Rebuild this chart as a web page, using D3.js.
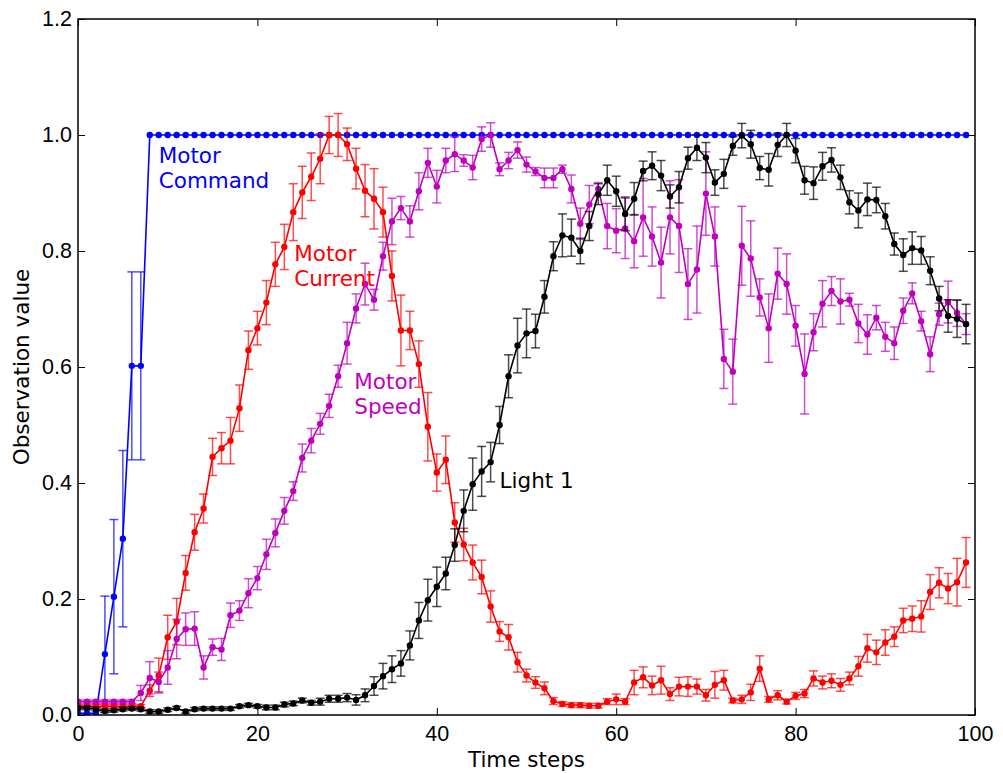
<!DOCTYPE html>
<html>
<head>
<meta charset="utf-8">
<script src="https://cdn.jsdelivr.net/npm/d3@7"></script>
<style>
  body { margin: 0; background: #fff; }
  svg { font-family: "DejaVu Sans", sans-serif; }
  .axis text { font-size: 21.5px; fill: #000; }
  .axis path, .axis line { stroke: #000; }
</style>
</head>
<body>
<svg width="1003" height="773"></svg>
<script>
"use strict";

// time steps 0..99
var steps = d3.range(0, 100);

var xTicks = [0, 20, 40, 60, 80, 100];
var yTicks = [0, 0.2, 0.4, 0.6, 0.8, 1.0, 1.2];

var motorCommand = [0.003, 0.003, 0.003, 0.105, 0.204, 0.304, 0.602, 0.602]
  .concat(d3.range(92).map(function() { return 1.0; }));
var motorCommandErr = [0, 0, 0, 0.10, 0.133, 0.152, 0.162, 0.162]
  .concat(d3.range(92).map(function() { return 0; }));

var motorCurrent = [0.015, 0.015, 0.015, 0.015, 0.015, 0.015, 0.015, 0.015,
  0.042, 0.068, 0.134, 0.161, 0.245, 0.315, 0.356, 0.445, 0.460, 0.473, 0.529, 0.629,
  0.667, 0.711, 0.777, 0.807, 0.867, 0.901, 0.928, 0.959, 1.0, 1.0,
  0.984, 0.942, 0.904, 0.890, 0.867, 0.757, 0.663, 0.663, 0.605, 0.497,
  0.418, 0.440, 0.332, 0.294, 0.263, 0.238, 0.187, 0.144, 0.134, 0.091,
  0.068, 0.056, 0.046, 0.024, 0.019, 0.017, 0.017, 0.016, 0.016, 0.023,
  0.027, 0.023, 0.056, 0.065, 0.051, 0.060, 0.036, 0.049, 0.049, 0.049,
  0.034, 0.052, 0.060, 0.025, 0.027, 0.039, 0.080, 0.027, 0.034, 0.023,
  0.033, 0.037, 0.063, 0.056, 0.059, 0.052, 0.063, 0.084, 0.115, 0.108,
  0.125, 0.135, 0.163, 0.166, 0.170, 0.212, 0.228, 0.218, 0.229, 0.263];
var motorCurrentErr = [0.003, 0.003, 0.003, 0.003, 0.003, 0.003, 0.003, 0.003,
  0.010, 0.030, 0.038, 0.040, 0.030, 0.031, 0.025, 0.032, 0.027, 0.040, 0.040, 0.033,
  0.029, 0.038, 0.038, 0.039, 0.049, 0.045, 0.041, 0.043, 0.032, 0.037,
  0.028, 0.035, 0.045, 0.052, 0.043, 0.043, 0.061, 0.033, 0.040, 0.059,
  0.032, 0.041, 0.034, 0.028, 0.030, 0.029, 0.027, 0.017, 0.022, 0.017,
  0.011, 0.010, 0.011, 0.006, 0.004, 0.004, 0.004, 0.004, 0.004, 0.005,
  0.009, 0.005, 0.021, 0.018, 0.016, 0.024, 0.011, 0.016, 0.017, 0.013,
  0.010, 0.023, 0.017, 0.004, 0.007, 0.014, 0.022, 0.005, 0.008, 0.004,
  0.006, 0.007, 0.013, 0.011, 0.012, 0.011, 0.011, 0.017, 0.024, 0.021,
  0.022, 0.017, 0.021, 0.022, 0.027, 0.030, 0.026, 0.026, 0.041, 0.043];

var motorSpeed = [0.023, 0.023, 0.023, 0.023, 0.023, 0.023, 0.023,
  0.038, 0.064, 0.057, 0.082, 0.131, 0.148, 0.149, 0.082, 0.117, 0.113, 0.172, 0.180, 0.210,
  0.236, 0.277, 0.314, 0.352, 0.386, 0.443, 0.473, 0.502, 0.533, 0.584,
  0.641, 0.701, 0.743, 0.716, 0.791, 0.851, 0.874, 0.851, 0.903, 0.952,
  0.911, 0.956, 0.967, 0.956, 0.944, 0.993, 1.0, 0.941, 0.956, 0.974,
  0.949, 0.937, 0.926, 0.926, 0.941, 0.907, 0.847, 0.880, 0.907, 0.843,
  0.835, 0.839, 0.817, 0.858, 0.825, 0.780, 0.858, 0.843, 0.743, 0.768,
  0.899, 0.825, 0.614, 0.592, 0.809, 0.787, 0.720, 0.667, 0.761, 0.743,
  0.671, 0.588, 0.660, 0.709, 0.731, 0.713, 0.716, 0.675, 0.656, 0.685,
  0.652, 0.641, 0.697, 0.727, 0.679, 0.622, 0.691, 0.712, 0.693, 0.674];
var motorSpeedErr = [0.003, 0.003, 0.003, 0.003, 0.003, 0.003, 0.003,
  0.013, 0.028, 0.017, 0.029, 0.034, 0.028, 0.029, 0.020, 0.014, 0.019, 0.021, 0.017, 0.025,
  0.020, 0.026, 0.024, 0.023, 0.016, 0.024, 0.021, 0.018, 0.020, 0.019,
  0.036, 0.025, 0.036, 0.018, 0.024, 0.040, 0.020, 0.027, 0.032, 0.025,
  0.028, 0.021, 0.030, 0.010, 0.021, 0.021, 0.021, 0.011, 0.014, 0.014,
  0.013, 0.007, 0.017, 0.017, 0.007, 0.024, 0.027, 0.033, 0.011, 0.039,
  0.038, 0.052, 0.046, 0.067, 0.051, 0.061, 0.063, 0.080, 0.061, 0.075,
  0.072, 0.051, 0.051, 0.056, 0.068, 0.065, 0.032, 0.059, 0.044, 0.052,
  0.035, 0.069, 0.032, 0.040, 0.025, 0.039, 0.011, 0.033, 0.034, 0.021,
  0.025, 0.028, 0.022, 0.018, 0.017, 0.030, 0.019, 0.036, 0.023, 0.018];

var light1 = [0.012, 0.012, 0.010, 0.007, 0.008, 0.010, 0.011, 0.010, 0.006, 0.006,
  0.009, 0.012, 0.006, 0.010, 0.011, 0.011, 0.011, 0.011, 0.015, 0.017,
  0.015, 0.013, 0.013, 0.018, 0.020, 0.025, 0.021, 0.023, 0.028, 0.028,
  0.030, 0.026, 0.034, 0.050, 0.067, 0.079, 0.089, 0.120, 0.163, 0.198,
  0.221, 0.244, 0.293, 0.352, 0.398, 0.420, 0.436, 0.500, 0.584, 0.637,
  0.658, 0.662, 0.721, 0.791, 0.827, 0.823, 0.800, 0.843, 0.898, 0.922,
  0.903, 0.864, 0.890, 0.938, 0.947, 0.930, 0.894, 0.910, 0.960, 0.978,
  0.961, 0.918, 0.933, 0.981, 0.999, 0.984, 0.943, 0.940, 0.983, 1.0,
  0.973, 0.922, 0.917, 0.946, 0.957, 0.927, 0.884, 0.870, 0.889, 0.888,
  0.860, 0.812, 0.793, 0.805, 0.801, 0.766, 0.718, 0.688, 0.683, 0.674];
var light1Err = [0.003, 0.003, 0.003, 0.003, 0.003, 0.003, 0.003, 0.003, 0.003, 0.003,
  0.003, 0.003, 0.003, 0.003, 0.003, 0.003, 0.003, 0.003, 0.003, 0.003,
  0.003, 0.004, 0.004, 0.004, 0.004, 0.004, 0.004, 0.006, 0.006, 0.006,
  0.007, 0.009, 0.011, 0.016, 0.022, 0.023, 0.022, 0.025, 0.031, 0.036,
  0.034, 0.028, 0.028, 0.036, 0.045, 0.043, 0.034, 0.032, 0.037, 0.047,
  0.042, 0.029, 0.028, 0.025, 0.037, 0.032, 0.022, 0.025, 0.018, 0.026,
  0.026, 0.029, 0.028, 0.017, 0.024, 0.026, 0.020, 0.027, 0.019, 0.022,
  0.026, 0.022, 0.025, 0.016, 0.021, 0.024, 0.020, 0.028, 0.020, 0.020,
  0.021, 0.024, 0.028, 0.024, 0.021, 0.021, 0.020, 0.030, 0.028, 0.022,
  0.022, 0.019, 0.028, 0.028, 0.024, 0.024, 0.021, 0.028, 0.032, 0.034];

var series = [
  { name: ["Motor", "Command"], color: "#0000ff", values: motorCommand, err: motorCommandErr, at: [9.0, 0.952] },
  { name: ["Motor", "Current"], color: "#ff0000", values: motorCurrent, err: motorCurrentErr, at: [24.1, 0.783] },
  { name: ["Motor", "Speed"], color: "#bf00bf", values: motorSpeed, err: motorSpeedErr, at: [30.8, 0.562] },
  { name: ["Light 1"], color: "#000000", values: light1, err: light1Err, at: [47.0, 0.391] }
];

var svg = d3.select("svg");
var margin = { left: 78, top: 19, right: 28, bottom: 58 };
var width = 1003 - margin.left - margin.right,
    height = 773 - margin.top - margin.bottom;

var x = d3.scaleLinear().domain([0, 100]).range([margin.left, margin.left + width]);
var y = d3.scaleLinear().domain([0, 1.2]).range([margin.top + height, margin.top]);

var plot = svg.append("g");
svg.append("defs").append("clipPath").attr("id", "clip")
  .append("rect").attr("x", margin.left).attr("y", margin.top)
  .attr("width", width).attr("height", height);
plot.attr("clip-path", "url(#clip)");

var line = d3.line()
  .x(function(d) { return x(d[0]); })
  .y(function(d) { return y(d[1]); });

series.forEach(function(s) {
  var pts = steps.map(function(t, i) { return [t, s.values[i], s.err[i]]; });
  var g = plot.append("g");

  var eb = g.append("g").attr("stroke", s.color).attr("stroke-width", 1.5)
    .attr("stroke-opacity", 0.7)
    .selectAll("g").data(pts.filter(function(d) { return d[2] > 0; }))
    .enter().append("g");
  eb.append("line")
    .attr("x1", function(d) { return x(d[0]); }).attr("x2", function(d) { return x(d[0]); })
    .attr("y1", function(d) { return y(d[1] - d[2]); })
    .attr("y2", function(d) { return y(d[1] + d[2]); });
  [-1, 1].forEach(function(sign) {
    eb.append("line")
      .attr("x1", function(d) { return x(d[0]) - 4.5; })
      .attr("x2", function(d) { return x(d[0]) + 4.5; })
      .attr("y1", function(d) { return y(d[1] + sign * d[2]); })
      .attr("y2", function(d) { return y(d[1] + sign * d[2]); });
  });

  g.append("path").datum(pts)
    .attr("fill", "none").attr("stroke", s.color).attr("stroke-width", 1.6)
    .attr("d", line);

  g.selectAll("circle").data(pts).enter().append("circle")
    .attr("cx", function(d) { return x(d[0]); })
    .attr("cy", function(d) { return y(d[1]); })
    .attr("r", 3.2)
    .attr("fill", s.color);

  var label = svg.append("text")
    .attr("x", x(s.at[0])).attr("y", y(s.at[1]))
    .attr("fill", s.color).style("font-size", "21.5px");
  s.name.forEach(function(n, k) {
    label.append("tspan").attr("x", x(s.at[0])).attr("dy", k === 0 ? 0 : 25).text(n);
  });
});

// axes, ticks pointing inward on all four sides
function styleAxis(g) {
  g.select(".domain").remove();
  g.selectAll("line").attr("stroke-width", 1);
}

svg.append("g").attr("class", "axis")
  .attr("transform", "translate(0," + (margin.top + height) + ")")
  .call(d3.axisBottom(x).tickValues(xTicks).tickFormat(d3.format("d"))
    .tickSizeInner(-7).tickSizeOuter(0).tickPadding(11))
  .call(styleAxis);
svg.append("g").attr("class", "axis")
  .attr("transform", "translate(0," + margin.top + ")")
  .call(d3.axisTop(x).tickValues(xTicks).tickFormat("")
    .tickSizeInner(-7).tickSizeOuter(0))
  .call(styleAxis);
svg.append("g").attr("class", "axis")
  .attr("transform", "translate(" + margin.left + ",0)")
  .call(d3.axisLeft(y).tickValues(yTicks).tickFormat(d3.format(".1f"))
    .tickSizeInner(-7).tickSizeOuter(0).tickPadding(6))
  .call(styleAxis);
svg.append("g").attr("class", "axis")
  .attr("transform", "translate(" + (margin.left + width) + ",0)")
  .call(d3.axisRight(y).tickValues(yTicks).tickFormat("")
    .tickSizeInner(-7).tickSizeOuter(0))
  .call(styleAxis);

svg.append("rect")
  .attr("x", margin.left).attr("y", margin.top)
  .attr("width", width).attr("height", height)
  .attr("fill", "none").attr("stroke", "#000").attr("stroke-width", 1.5);

svg.append("text")
  .attr("x", margin.left + width / 2).attr("y", 767)
  .attr("text-anchor", "middle").style("font-size", "21.5px")
  .text("Time steps");

svg.append("text")
  .attr("transform", "translate(29," + (margin.top + height / 2) + ") rotate(-90)")
  .attr("text-anchor", "middle").style("font-size", "21.5px")
  .text("Observation value");
</script>
</body>
</html>
